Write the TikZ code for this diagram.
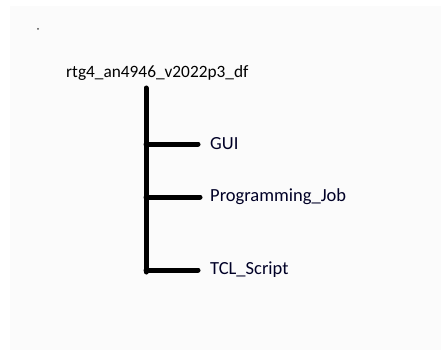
\documentclass[tikz,border=0pt]{standalone}
\usepackage{fontspec}
\setmainfont{Carlito}
\begin{document}
\begin{tikzpicture}[x=1pt,y=-1pt,
  bar/.style={line width=5pt,line cap=round,black},
  lbl/.style={anchor=west,inner sep=0pt,font=\fontsize{18.5}{22}\selectfont,text=black!85!blue}]
\fill[white] (0,0) rectangle (441,350);
\fill[black!1.5] (10,6) rectangle (441,350);
\fill[black!70] (38,29) circle (1pt);
\node[anchor=base west,inner sep=0pt,font=\fontsize{17.3}{20}\selectfont] (root) at (66,78) {rtg4\_an4946\_v2022p3\_df};
\coordinate (top) at (146,88);
\coordinate (bot) at (146,272);
\node[lbl] (gui) at (210,144) {GUI};
\node[lbl] (pj) at (210,197) {Programming\_Job};
\node[lbl] (tcl) at (210,270) {TCL\_Script};
\draw[bar] (top) -- (bot);
\draw[bar] (top |- gui) -- (gui.west -| 198,0);
\draw[bar] (top |- pj) -- (pj.west -| 200,0);
\draw[bar] (top |- tcl) -- (tcl.west -| 198,0);
\end{tikzpicture}
\end{document}
